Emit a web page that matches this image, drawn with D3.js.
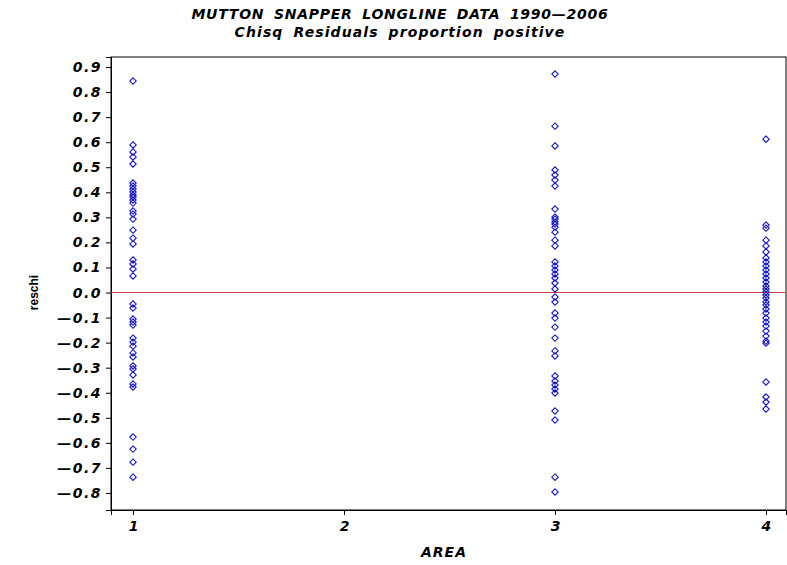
<!DOCTYPE html>
<html>
<head>
<meta charset="utf-8">
<script src="https://cdn.jsdelivr.net/npm/d3@7"></script>
<style>
  html, body { margin: 0; padding: 0; background: #fff; }
  svg { display: block; }
  .t { font-family: "DejaVu Sans", "Liberation Sans", sans-serif; font-weight: bold; font-style: italic; fill: #000; }
</style>
</head>
<body>
<svg id="chart" width="787" height="565"></svg>
<script>
const titleLines = ["MUTTON SNAPPER LONGLINE DATA 1990\u20142006", "Chisq Residuals proportion positive"];
const xLabel = "AREA";
const yLabel = "reschi";
const xTicks = [1, 2, 3, 4];
const yTicks = [-0.8, -0.7, -0.6, -0.5, -0.4, -0.3, -0.2, -0.1, 0.0, 0.1, 0.2, 0.3, 0.4, 0.5, 0.6, 0.7, 0.8, 0.9];

const area1 = [0.844, 0.589, 0.561, 0.541, 0.513, 0.437, 0.425, 0.413, 0.401, 0.389, 0.381, 0.369, 0.357,
  0.325, 0.313, 0.293, 0.249, 0.217, 0.194, 0.130, 0.114, 0.094, 0.066,
  -0.046, -0.062, -0.106, -0.118, -0.130, -0.182, -0.198, -0.214, -0.241, -0.257, -0.293, -0.305, -0.329,
  -0.365, -0.377, -0.577, -0.625, -0.677, -0.737];
const area3 = [0.872, 0.664, 0.585, 0.489, 0.469, 0.449, 0.425, 0.333, 0.301, 0.293, 0.281, 0.273, 0.261,
  0.241, 0.209, 0.186, 0.122, 0.106, 0.090, 0.074, 0.058, 0.038, 0.014, -0.018, -0.038, -0.082, -0.102,
  -0.138, -0.182, -0.233, -0.253, -0.333, -0.353, -0.369, -0.385, -0.401, -0.473, -0.509, -0.737, -0.796];
const area4 = [0.612, 0.269, 0.257, 0.209, 0.186, 0.162, 0.138, 0.122, 0.106, 0.090, 0.074, 0.058, 0.042,
  0.026, 0.014, 0.002, -0.010, -0.022, -0.038, -0.050, -0.066, -0.082, -0.102, -0.118, -0.134, -0.154,
  -0.174, -0.194, -0.202, -0.357, -0.417, -0.437, -0.465];
const refValue = 0;

const groups = [
  {area: 1, values: area1},
  {area: 3, values: area3},
  {area: 4, values: area4}
];
const points = groups.flatMap(g => g.values.map(v => ({x: g.area, y: v})));

const svg = d3.select("#chart");
const L = 111, R = 786, T = 57, B = 510;

const x = d3.scaleLinear().domain([0.8957, 4.0948]).range([L, R]);
const y = d3.scaleLinear().domain([-0.868, 0.94]).range([B, T]);

// frame
svg.append("rect").attr("x", L).attr("y", T).attr("width", R - L).attr("height", B - T)
  .attr("fill", "none").attr("stroke", "#000").attr("stroke-width", 1);

const fmt = v => (v < 0 ? "\u2014" : "") + Math.abs(v).toFixed(1);

const yAxis = svg.append("g").attr("transform", `translate(${L},0)`)
  .call(d3.axisLeft(y).tickValues(yTicks).tickFormat(fmt).tickSize(5).tickPadding(4));
yAxis.select(".domain").attr("stroke", "#000");
yAxis.selectAll("text").attr("class", "t").style("font-size", "14px").style("letter-spacing", "1.5px").attr("fill", "#000");

const xAxis = svg.append("g").attr("transform", `translate(0,${B})`)
  .call(d3.axisBottom(x).tickValues(xTicks).tickFormat(d3.format("d")).tickSize(5).tickPadding(6));
xAxis.select(".domain").attr("stroke", "#000");
xAxis.selectAll("text").attr("class", "t").style("font-size", "14px").attr("fill", "#000");

// reference line
svg.append("line").attr("x1", L).attr("x2", R).attr("y1", y(refValue)).attr("y2", y(refValue))
  .attr("stroke", "#c8433f").attr("stroke-width", 1.2);

// points (diamonds)
const sym = d3.symbol().type(d3.symbolDiamond2).size(26);
svg.append("g").selectAll("path").data(points).join("path")
  .attr("transform", d => `translate(${x(d.x)},${y(d.y)})`)
  .attr("d", sym)
  .attr("fill", "none").attr("stroke", "#1515c8").attr("stroke-width", 1.1);

// titles
svg.append("text").attr("class", "t").attr("x", 400).attr("y", 19).attr("text-anchor", "middle")
  .style("font-size", "14px").style("letter-spacing", "0.75px").style("word-spacing", "4px").text(titleLines[0]);
svg.append("text").attr("class", "t").attr("x", 400).attr("y", 37).attr("text-anchor", "middle")
  .style("font-size", "14px").style("letter-spacing", "1.1px").style("word-spacing", "4px").text(titleLines[1]);

// axis labels
svg.append("text").attr("class", "t").attr("x", 444).attr("y", 557).attr("text-anchor", "middle")
  .style("font-size", "14px").style("letter-spacing", "1px").text(xLabel);
svg.append("text").attr("class", "t").attr("transform", `translate(38,${y(0)}) rotate(-90)`)
  .attr("text-anchor", "middle").style("font-size", "12px").style("font-style", "normal")
  .style("font-family", "'Liberation Sans Narrow', 'Liberation Sans', sans-serif").text(yLabel);
</script>
</body>
</html>
